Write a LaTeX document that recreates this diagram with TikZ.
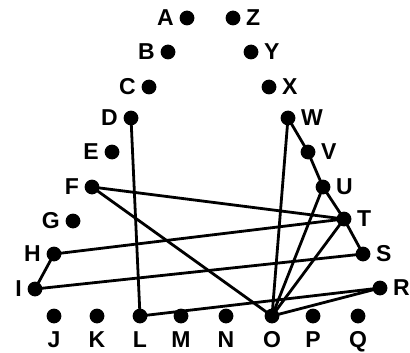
\documentclass[tikz,border=0pt]{standalone}
\usepackage{fontspec}
\setmainfont{Liberation Sans}
\usetikzlibrary{positioning}

\begin{document}
\begin{tikzpicture}[x=0.5pt,y=-0.5pt,
    dot/.style={circle, fill=black, inner sep=0pt, minimum size=7.4pt},
    link/.style={line width=1.4pt},
    every label/.style={font=\bfseries\fontsize{11.5}{13}\selectfont, inner sep=1pt},
    label distance=1.5pt]
  \useasboundingbox (0,0) rectangle (410,352);
  % Left diagonal
  \foreach \n/\x/\y in {A/187/18, B/168/52, C/149/87, D/131/118, E/112/152,
                        F/92/187, G/73/221, H/54/254, I/35/289}
    \node[dot, label=left:\n] (\n) at (\x,\y) {};
  % Right diagonal
  \foreach \n/\x/\y in {Z/233/18, Y/251/52, X/269/87, W/288/118, V/308/152,
                        U/323/187, T/344/219, S/363/254, R/380/288}
    \node[dot, label=right:\n] (\n) at (\x,\y) {};
  % Bottom row
  \foreach \n/\x in {J/54, K/97, L/140, M/181, N/226, O/272, P/313, Q/358}
    \node[dot, label={[label distance=2.5pt]below:\n}] (\n) at (\x,316) {};
  % Connections
  \foreach \a/\b in {D/L, W/O, W/V, V/U, U/T, T/S, F/T, F/O,
                     H/T, H/I, I/S, L/R, O/R, O/U, O/T}
    \draw[link] (\a.center) -- (\b.center);
\end{tikzpicture}
\end{document}
